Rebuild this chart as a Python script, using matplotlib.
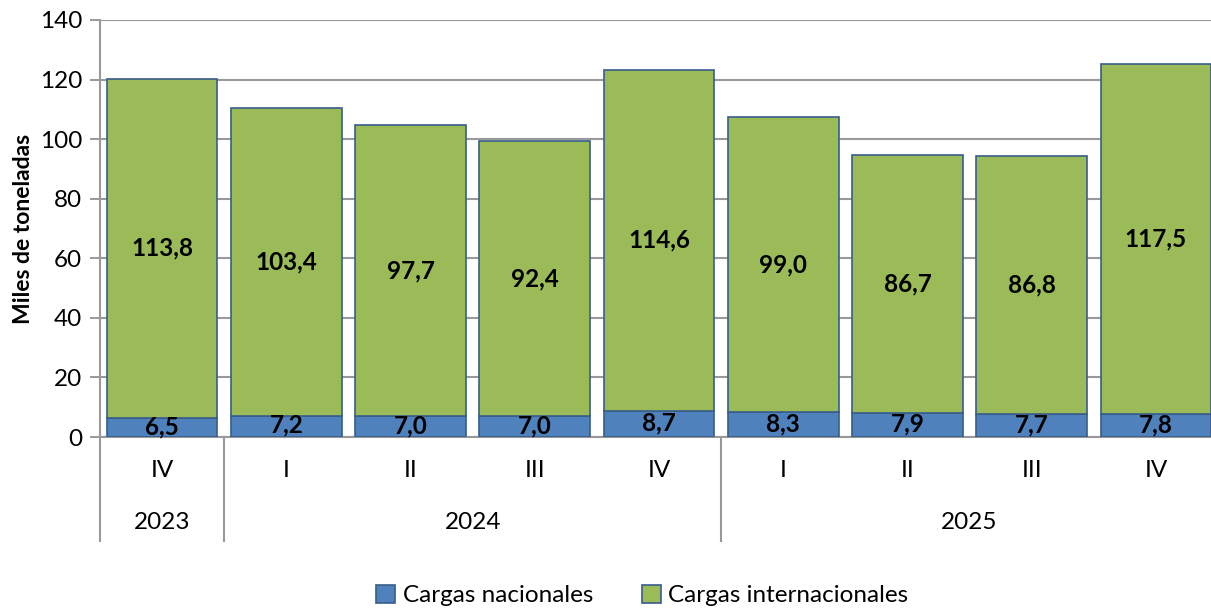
import matplotlib.pyplot as plt
import numpy as np

trimestres = ['IV', 'I', 'II', 'III', 'IV', 'I', 'II', 'III', 'IV']
anios = ['2023', '2024', '2025']
anios_n = [1, 4, 4]  # trimestres por año
nacionales = [6.5, 7.2, 7.0, 7.0, 8.7, 8.3, 7.9, 7.7, 7.8]
internacionales = [113.8, 103.4, 97.7, 92.4, 114.6, 99.0, 86.7, 86.8, 117.5]

plt.rcParams['font.family'] = ['Lato', 'DejaVu Sans']

fig = plt.figure(figsize=(12.11, 6.10), dpi=100)
ax = fig.add_axes([100 / 1211, 1 - 437 / 610, 1118 / 1211, 417 / 610])

x = np.arange(len(trimestres))
azul = '#4F81BD'
verde = '#9BBB59'
borde = '#385D8A'

ax.bar(x, nacionales, width=0.89, color=azul, edgecolor=borde, linewidth=1.2,
       label='Cargas nacionales', zorder=3)
ax.bar(x, internacionales, width=0.89, bottom=nacionales, color=verde,
       edgecolor=borde, linewidth=1.2, label='Cargas internacionales', zorder=3)

fmt = lambda v: f'{v:.1f}'.replace('.', ',')
for i in range(len(x)):
    ax.text(x[i], nacionales[i] / 2 + 0.3, fmt(nacionales[i]), ha='center', va='center',
            fontsize=17.5, fontweight='bold', zorder=4)
    ax.text(x[i], nacionales[i] + internacionales[i] / 2, fmt(internacionales[i]),
            ha='center', va='center', fontsize=17.5, fontweight='bold', zorder=4)

ax.set_xlim(-0.5, len(x) - 0.5)
ax.set_ylim(0, 140)
ax.set_yticks(range(0, 141, 20))
ax.tick_params(axis='y', labelsize=17.5, length=7, color='#888888', width=1.2, pad=6)
ax.set_xticks([])
ax.grid(axis='y', color='#999999', linewidth=1.5, zorder=0)
for s in ['top', 'right']:
    ax.spines[s].set_visible(False)
ax.spines['left'].set_color('#999999')
ax.spines['left'].set_linewidth(1.5)
ax.spines['bottom'].set_color('#999999')
ax.spines['bottom'].set_linewidth(1.5)
ax.set_ylabel('Miles de toneladas', fontsize=16.5, fontweight='bold', labelpad=4)

# etiquetas de categoría en dos niveles
tr = ax.get_xaxis_transform()
for i, t in enumerate(trimestres):
    ax.text(x[i], -0.08, t, transform=tr, ha='center', va='center', fontsize=17.5)
pos = 0
bordes = [-0.5]
for a, n in zip(anios, anios_n):
    centro = pos + (n - 1) / 2
    ax.text(centro, -0.205, a, transform=tr, ha='center', va='center', fontsize=17.5)
    pos += n
    bordes.append(pos - 0.5)
for b in bordes:
    ax.plot([b, b], [0, -0.25], transform=tr, color='#999999', linewidth=1.5,
            clip_on=False)

ax.legend(loc='center', bbox_to_anchor=(0.485, -0.38), ncol=2, frameon=False,
          fontsize=17.5, handlelength=0.8, handleheight=0.8, handletextpad=0.3,
          columnspacing=2.0)

fig.savefig('out.png', dpi=100)
